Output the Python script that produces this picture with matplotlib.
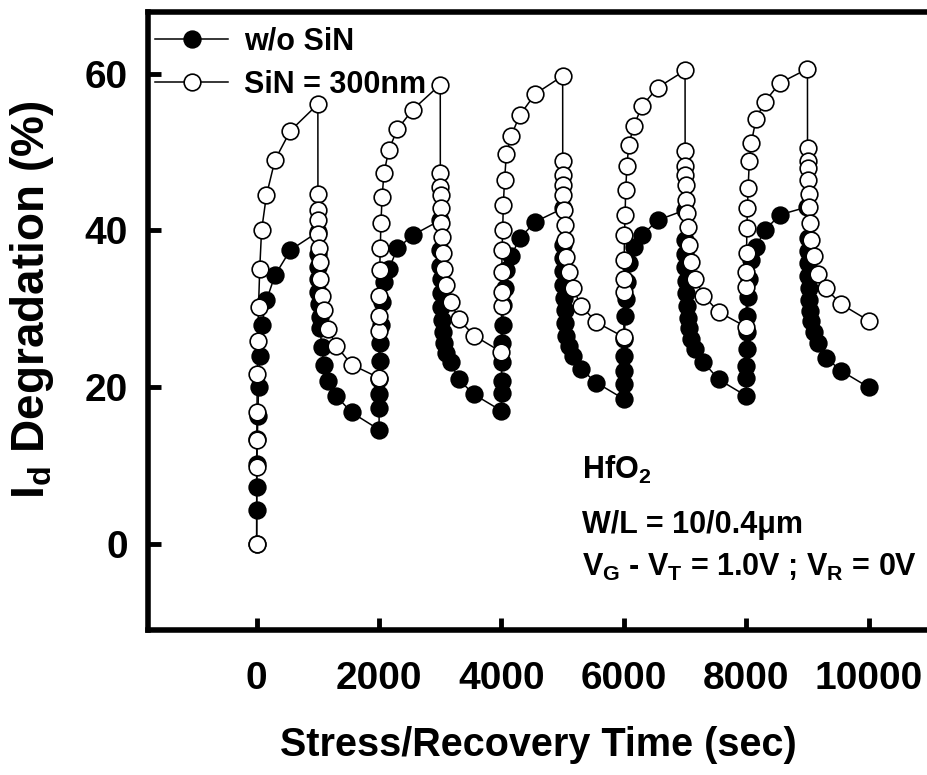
import matplotlib
matplotlib.use("Agg")
import matplotlib.pyplot as plt
import numpy as np

# time schedule inside each stress / recovery phase (sec)
stress_dt = [1, 2, 5, 10, 20, 30, 50, 80, 160, 300, 550, 1000]
recov_dt = [1, 2, 5, 10, 20, 30, 40, 60, 100, 170, 300, 550, 1000]
cycle_start = [0, 2000, 4000, 6000, 8000]

# SiN = 300nm (open circles)
open_stress = [
    [9.9, 13.3, 16.8, 21.7, 25.9, 30.2, 35.1, 40.0, 44.5, 49.0, 52.7, 56.1],
    [27.2, 29.1, 31.7, 34.9, 37.7, 40.9, 44.3, 47.3, 50.3, 52.9, 55.4, 58.6],
    [30.4, 32.1, 34.7, 37.5, 40.0, 43.2, 46.4, 49.7, 52.1, 54.7, 57.4, 59.7],
    [32.1, 33.8, 36.2, 39.4, 42.0, 45.2, 48.2, 50.9, 53.3, 55.9, 58.2, 60.4],
    [32.8, 34.7, 37.1, 40.3, 42.8, 45.4, 48.8, 51.1, 54.2, 56.4, 58.8, 60.6],
]
open_recov = [
    [44.7, 42.6, 41.3, 39.6, 37.7, 36.0, 33.8, 31.7, 29.8, 27.4, 25.3, 22.9, 21.2],
    [47.3, 45.6, 44.5, 42.8, 40.9, 39.2, 37.1, 35.1, 33.0, 30.9, 28.7, 26.6, 24.5],
    [48.8, 47.1, 45.8, 44.5, 42.6, 40.7, 38.8, 36.6, 34.7, 32.6, 30.4, 28.3, 26.4],
    [50.1, 48.2, 47.1, 45.8, 43.9, 42.2, 40.5, 38.1, 36.0, 33.8, 31.7, 29.6, 27.7],
    [50.5, 48.8, 47.9, 46.4, 44.7, 43.0, 40.9, 38.8, 36.8, 34.5, 32.6, 30.6, 28.5],
]

# w/o SiN (filled circles)
fill_stress = [
    [4.4, 7.3, 10.2, 13.4, 16.3, 20.1, 24.0, 27.9, 31.1, 34.3, 37.5, 39.8],
    [17.4, 19.1, 21.0, 23.4, 25.7, 27.9, 30.9, 33.4, 35.1, 37.7, 39.4, 41.3],
    [19.3, 20.8, 23.2, 25.7, 27.9, 30.5, 32.6, 34.9, 36.8, 39.0, 41.1, 42.8],
    [20.4, 22.1, 24.0, 26.2, 29.1, 31.3, 33.4, 35.8, 37.9, 39.4, 41.3, 42.6],
    [21.2, 22.7, 24.9, 27.0, 29.1, 31.5, 33.8, 36.2, 37.9, 40.0, 42.0, 43.0],
]
fill_recov = [
    [37.0, 35.4, 33.8, 32.2, 30.6, 29.0, 27.5, 25.2, 22.9, 20.8, 18.9, 16.8, 14.6],
    [37.5, 35.5, 33.8, 32.0, 30.3, 28.6, 27.0, 25.6, 24.4, 23.2, 21.0, 19.1, 17.0],
    [38.1, 36.5, 34.8, 33.0, 31.4, 29.8, 28.2, 26.6, 25.3, 24.0, 22.3, 20.6, 18.5],
    [38.8, 37.0, 35.3, 33.6, 32.0, 30.4, 28.9, 27.5, 26.2, 24.9, 23.2, 21.0, 18.9],
    [39.0, 37.4, 35.8, 34.2, 32.6, 31.1, 29.7, 28.4, 27.0, 25.7, 23.8, 22.1, 20.0],
]

x_ticks = [0, 2000, 4000, 6000, 8000, 10000]
y_ticks = [0, 20, 40, 60]


def build(stress, recov):
    t, v = [0], [0.0]
    for c, t0 in enumerate(cycle_start):
        t += [t0 + d for d in stress_dt]
        v += stress[c]
        t += [t0 + 1000 + d for d in recov_dt]
        v += recov[c]
    return np.array(t), np.array(v)


plt.rcParams['font.family'] = ['Liberation Sans', 'DejaVu Sans']
plt.rcParams['font.weight'] = 'bold'
plt.rcParams['mathtext.fontset'] = 'custom'
plt.rcParams['mathtext.rm'] = 'Liberation Sans:bold'
plt.rcParams['mathtext.bf'] = 'Liberation Sans:bold'

fig = plt.figure(figsize=(9.28, 7.75), dpi=100)
ax = fig.add_axes([0.159, 0.1865, 0.8405, 0.798])

t_f, v_f = build(fill_stress, fill_recov)
t_o, v_o = build(open_stress, open_recov)
ax.plot(t_f, v_f, '-o', color='black', lw=1.1, ms=12, mfc='black', mec='black',
        mew=1.2, label='w/o SiN', zorder=3)
ax.plot(t_o, v_o, '-o', color='black', lw=1.1, ms=12, mfc='white', mec='black',
        mew=1.2, label='SiN = 300nm', zorder=4)

ax.set_xlim(-1783, 10962)
ax.set_ylim(-11, 67.85)
ax.set_xticks(x_ticks)
ax.set_yticks(y_ticks)
ax.tick_params(direction='in', length=9, width=3.5, labelsize=28)
ax.tick_params(axis='x', pad=22)
ax.tick_params(axis='y', pad=14)

for s in ['left', 'bottom', 'top']:
    ax.spines[s].set_linewidth(4.0)
ax.spines['right'].set_linewidth(1.0)

ax.set_xlabel('Stress/Recovery Time (sec)', fontsize=28.5, fontweight='bold')
ax.set_ylabel(r'I$_\mathrm{d}$ Degradation (%)', fontsize=33, fontweight='bold')
ax.xaxis.set_label_coords(0.501, -0.155)
ax.yaxis.set_label_coords(-0.118, 0.534)

leg = ax.legend(loc='upper left', bbox_to_anchor=(0.0096, 0.977), frameon=False,
                fontsize=22, handlelength=2.4, handletextpad=0.5,
                labelspacing=0.45, borderpad=0, borderaxespad=0)

ax.text(0.557, 0.245, r'HfO$_\mathbf{2}$', transform=ax.transAxes, fontsize=22,
        fontweight='bold', va='baseline')
ax.text(0.557, 0.158, 'W/L = 10/0.4μm', transform=ax.transAxes, fontsize=22,
        fontweight='bold', va='baseline')
ax.text(0.557, 0.088, r'V$_\mathbf{G}$ - V$_\mathbf{T}$ = 1.0V ; V$_\mathbf{R}$ = 0V',
        transform=ax.transAxes, fontsize=22, fontweight='bold', va='baseline')

fig.savefig('out.png', dpi=100)
